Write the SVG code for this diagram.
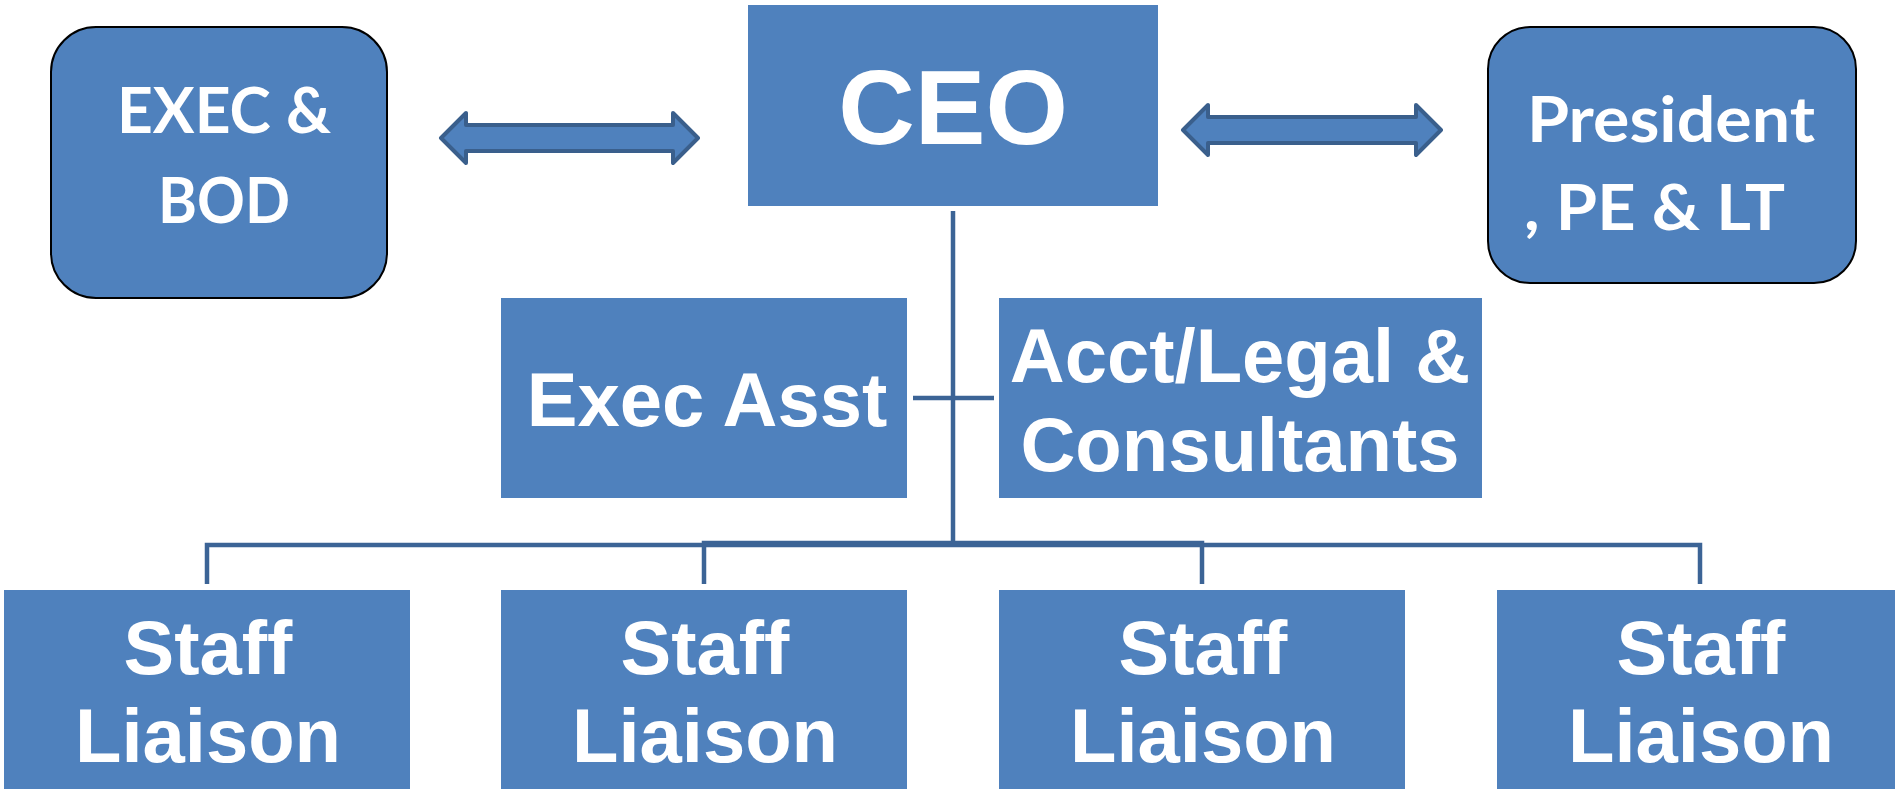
<svg xmlns="http://www.w3.org/2000/svg" width="1895" height="789" viewBox="0 0 1895 789">
  <style>
    .box { fill: #4F81BD; }
    .rbox { fill: #4F81BD; stroke: #000; stroke-width: 2; }
    .arrow { fill: #4F81BD; stroke: #3A5F8C; stroke-width: 4; stroke-linejoin: round; }
    .wire { stroke: #3C6496; stroke-width: 4.5; fill: none; }
    .t { fill: #fff; font-family: "Liberation Sans", Arial, sans-serif; font-weight: bold; text-anchor: middle; }
    .c { fill: #fff; font-family: Lato, "Open Sans", sans-serif; font-weight: bold; font-size: 64px; }
    .big { font-size: 106px; }
    .mid { font-size: 76px; }
  </style>
  <rect width="1895" height="789" fill="#fff"/>

  <!-- connectors -->
  <g id="connectors">
    <path class="arrow" d="M441,138 L466,113 L466,125 L673,125 L673,113 L698,138 L673,163 L673,151 L466,151 L466,163 Z"/>
    <path class="arrow" d="M1183,130 L1208,105 L1208,117 L1416,117 L1416,105 L1441,130 L1416,155 L1416,143 L1208,143 L1208,155 Z"/>
    <line class="wire" x1="953" y1="211" x2="953" y2="545"/>
    <line class="wire" x1="913" y1="398" x2="994" y2="398" stroke-width="5"/>
    <polyline class="wire" points="207,584 207,545 1700,545 1700,584"/>
    <polyline class="wire" points="704,584 704,543 1202,543 1202,584"/>
  </g>

  <g id="exec-bod">
    <rect class="rbox" x="51" y="27" width="336" height="271" rx="45" ry="45"/>
    <text class="c" x="117" y="133" textLength="214" lengthAdjust="spacingAndGlyphs">EXEC &amp;</text>
    <text class="c" x="158" y="223" textLength="132" lengthAdjust="spacingAndGlyphs">BOD</text>
  </g>

  <g id="ceo">
    <rect class="box" x="748" y="5" width="410" height="201"/>
    <text class="t big" x="953" y="144">CEO</text>
  </g>

  <g id="president">
    <rect class="rbox" x="1488" y="27" width="368" height="256" rx="42" ry="42"/>
    <text class="c" x="1527" y="142" textLength="288" lengthAdjust="spacingAndGlyphs">President</text>
    <text class="c" x="1524" y="230" textLength="261" lengthAdjust="spacingAndGlyphs">, PE &amp; LT</text>
  </g>

  <g id="exec-asst">
    <rect class="box" x="501" y="298" width="406" height="200"/>
    <text class="t mid" x="707" y="426">Exec Asst</text>
  </g>

  <g id="acct-legal">
    <rect class="box" x="999" y="298" width="483" height="200"/>
    <text class="t mid" x="1240" y="382">Acct/Legal &amp;</text>
    <text class="t mid" x="1240" y="471">Consultants</text>
  </g>

  <g id="staff-1">
    <rect class="box" x="4" y="590" width="406" height="210"/>
    <text class="t mid" x="208" y="674">Staff</text>
    <text class="t mid" x="208" y="762">Liaison</text>
  </g>

  <g id="staff-2">
    <rect class="box" x="501" y="590" width="406" height="210"/>
    <text class="t mid" x="705" y="674">Staff</text>
    <text class="t mid" x="705" y="762">Liaison</text>
  </g>

  <g id="staff-3">
    <rect class="box" x="999" y="590" width="406" height="210"/>
    <text class="t mid" x="1203" y="674">Staff</text>
    <text class="t mid" x="1203" y="762">Liaison</text>
  </g>

  <g id="staff-4">
    <rect class="box" x="1497" y="590" width="406" height="210"/>
    <text class="t mid" x="1701" y="674">Staff</text>
    <text class="t mid" x="1701" y="762">Liaison</text>
  </g>
</svg>
